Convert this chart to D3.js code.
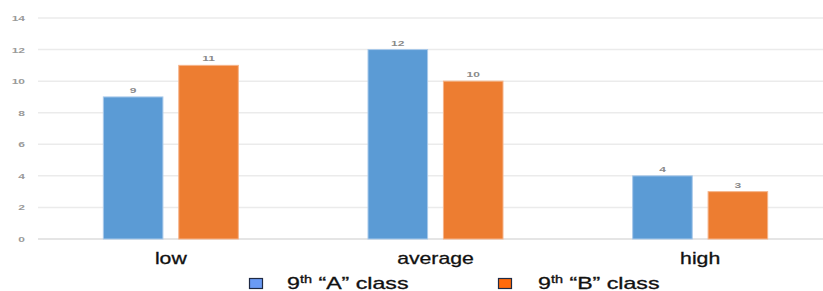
<!DOCTYPE html>
<html>
<head>
<meta charset="utf-8">
<script src="https://cdn.jsdelivr.net/npm/d3@7"></script>
<style>
  body { margin: 0; background: #fff; }
  svg { display: block; font-family: "Liberation Sans", Arial, sans-serif; }
</style>
</head>
<body>
<svg></svg>
<script>
var categories = ["low", "average", "high"];
var seriesNames = ["9th \u201CA\u201D class", "9th \u201CB\u201D class"];
var classA = [9, 12, 4];
var classB = [11, 10, 3];
var yTicks = [0, 2, 4, 6, 8, 10, 12, 14];

var w = 823, h = 291;
var colors = ["#5b9bd5", "#ed7d31"];
var legendFill = ["#6a9bf5", "#ff6a0a"];

var svg = d3.select("svg").attr("width", w).attr("height", h);

var y = d3.scaleLinear().domain([0, 14]).range([239, 18]);
var x0 = d3.scaleBand().domain(categories).range([38.5, 832.5]);
var x1 = d3.scaleBand().domain([0, 1])
    .range([x0.bandwidth() / 2 - 67.5, x0.bandwidth() / 2 + 67.5])
    .paddingInner(0.21);

// gridlines
svg.append("g").selectAll("line")
    .data(yTicks)
    .enter().append("line")
    .attr("x1", 38).attr("x2", w)
    .attr("y1", d => y(d)).attr("y2", d => y(d))
    .attr("stroke", d => d === 0 ? "#dcdcdc" : "#ebebeb")
    .attr("stroke-width", 1.5);

// y labels
svg.append("g").selectAll("text")
    .data(yTicks)
    .enter().append("text")
    .attr("transform", d => "translate(25," + (y(d) + 3) + ") scale(1.5,1)")
    .attr("text-anchor", "end")
    .attr("font-size", 8)
    .attr("font-weight", "bold")
    .attr("fill", "#9a9a9a")
    .text(d => d);

var rows = categories.map((c, i) => ({cat: c, vals: [classA[i], classB[i]]}));

var groups = svg.append("g").selectAll("g")
    .data(rows)
    .enter().append("g")
    .attr("transform", d => "translate(" + x0(d.cat) + ",0)");

groups.selectAll("rect")
    .data(d => d.vals.map((v, j) => ({v: v, j: j})))
    .enter().append("rect")
    .attr("x", d => x1(d.j))
    .attr("y", d => y(d.v))
    .attr("width", x1.bandwidth())
    .attr("height", d => y(0) - y(d.v))
    .attr("fill", d => colors[d.j])
    .attr("stroke", d => d.j ? "#f5b48a" : "#a9c9ea")
    .attr("stroke-width", 1);

groups.selectAll("text")
    .data(d => d.vals.map((v, j) => ({v: v, j: j})))
    .enter().append("text")
    .attr("transform", d => "translate(" + (x1(d.j) + x1.bandwidth() / 2) + "," + (y(d.v) - 4) + ") scale(1.5,1)")
    .attr("text-anchor", "middle")
    .attr("font-size", 8)
    .attr("font-weight", "bold")
    .attr("fill", "#8a8a8a")
    .text(d => d.v);

// category labels
svg.append("g").selectAll("text")
    .data(categories)
    .enter().append("text")
    .attr("transform", d => "translate(" + (x0(d) + x0.bandwidth() / 2) + ",264) scale(1.25,1)")
    .attr("text-anchor", "middle")
    .attr("font-size", 17)
    .attr("fill", "#111")
    .attr("stroke", "#111")
    .attr("stroke-width", 0.3)
    .text(d => d);

// legend
var legendX = [249, 498];
var leg = svg.append("g").selectAll("g")
    .data(seriesNames)
    .enter().append("g")
    .attr("transform", (d, i) => "translate(" + legendX[i] + ",0)");

leg.append("rect")
    .attr("x", 0.5).attr("y", 278.5)
    .attr("width", 13).attr("height", 10)
    .attr("fill", (d, i) => legendFill[i])
    .attr("stroke", "#1f2a44")
    .attr("stroke-width", 1.2);

var lt = leg.append("text")
    .attr("transform", (d, i) => "translate(" + (i ? 40 : 38) + ",289) scale(1.45,1)")
    .attr("font-size", 16)
    .attr("fill", "#111")
    .attr("stroke", "#111")
    .attr("stroke-width", 0.3);
lt.append("tspan").text("9");
lt.append("tspan").attr("font-size", 10).attr("dy", -6).text("th");
lt.append("tspan").attr("dy", 6).text(d => d.slice(3));
</script>
</body>
</html>
